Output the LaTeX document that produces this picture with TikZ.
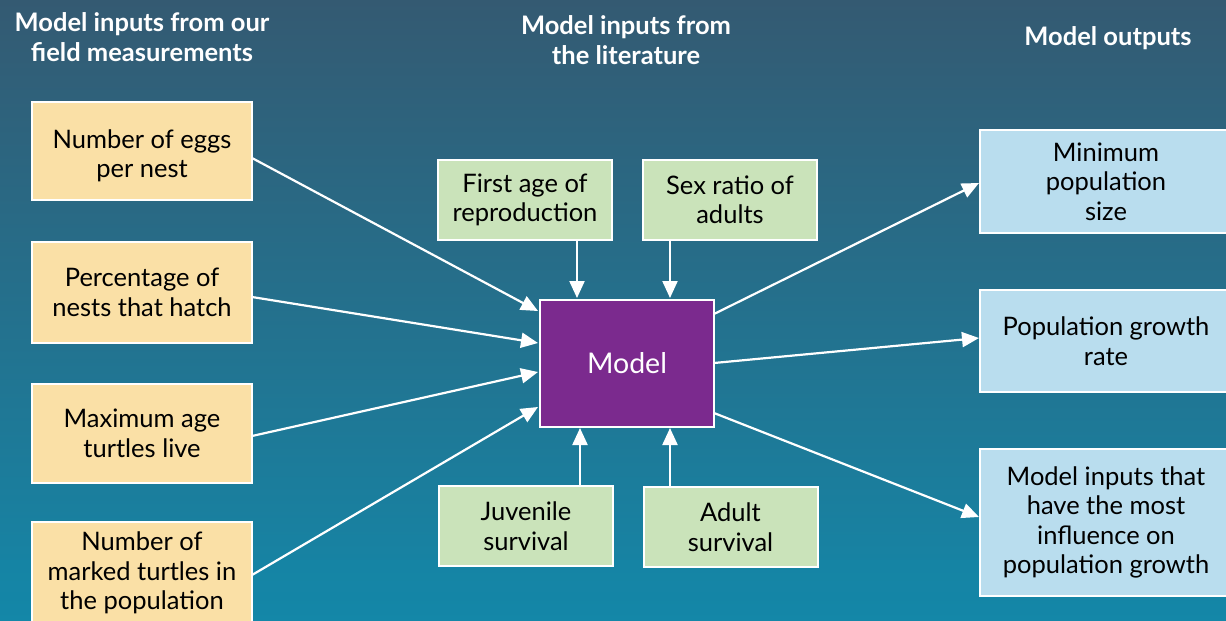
\documentclass[tikz,border=0pt]{standalone}
\usepackage{fontspec}
\setmainfont{Lato}
\usetikzlibrary{arrows.meta,positioning}
\definecolor{bgtop}{HTML}{345A72}
\definecolor{bgbot}{HTML}{1487A8}
\definecolor{yel}{HTML}{FAE0A6}
\definecolor{grn}{HTML}{CAE3BA}
\definecolor{blu}{HTML}{B9DDEE}
\definecolor{pur}{HTML}{7B2A8E}
\tikzset{
  box/.style={draw=white,line width=2pt,inner sep=0pt,align=center,font=\fontsize{25.5}{29.5}\selectfont,text=black},
  ybox/.style={box,fill=yel,minimum width=220pt},
  gbox/.style={box,fill=grn,minimum width=174pt,minimum height=80pt},
  bbox/.style={box,fill=blu},
  head/.style={align=center,text=white,font=\bfseries\fontsize{25.5}{29.5}\selectfont},
  arr/.style={draw=white,line width=2.2pt,-{Triangle[length=17pt,width=15pt]}}
}
\begin{document}
\begin{tikzpicture}[x=1pt,y=-1pt]
\useasboundingbox (0,0) rectangle (1226,621);
\shade[top color=bgtop,bottom color=bgbot] (0,0) rectangle (1226,621);
\fill[bgbot,opacity=0.35] (0,621) rectangle (1226,560);
% headings
\node[head] (h1) at (142,37) {Model inputs from our\\field measurements};
\node[head] (h2) at (626,40) {Model inputs from\\the literature};
\node[head] (h3) at (1108,38) {Model outputs};
% left yellow boxes
\node[ybox,minimum height=98pt] (y1) at (142,151) {};
\node[align=center,font=\fontsize{25.5}{29.5}\selectfont] (y1t) at (142,156) {Number of eggs\\per nest};
\node[ybox,minimum height=101pt] (y2) at (142,292.5) {Percentage of\\nests that hatch};
\node[ybox,minimum height=99pt] (y3) at (142,433.5) {Maximum age\\turtles live};
\node[ybox,minimum height=120pt] (y4) at (142,582) {};
\node[align=center,font=\fontsize{25.5}{29.5}\selectfont] (y4t) at (142,573) {Number of\\marked turtles in\\the population};
% green
\node[gbox] (g1) at (525,200) {First age of\\reproduction};
\node[gbox] (g2) at (730,200) {Sex ratio of\\adults};
\node[gbox] (g3) at (526,526) {Juvenile\\survival};
\node[gbox] (g4) at (730.5,527) {Adult\\survival};
% model
\node[box,fill=pur,minimum width=174pt,minimum height=127pt,text=white,font=\fontsize{28.5}{32}\selectfont] (m) at (627,363) {Model};
% blue
\node[bbox,minimum width=260pt,minimum height=103pt,anchor=west] (b1) at (979,181.5) {\hspace*{-8pt}\parbox{240pt}{\centering Minimum\\population\\size}};
\node[bbox,minimum width=260pt,minimum height=102pt,anchor=west] (b2) at (979,341) {\hspace*{-8pt}\parbox{240pt}{\centering Population growth\\rate}};
\node[bbox,minimum width=260pt,minimum height=147pt,anchor=west] (b3) at (979,522.5) {\hspace*{-8pt}\parbox{240pt}{\centering Model inputs that\\have the most\\influence on\\population growth}};
% coordinates for connectors
\coordinate (y1e) at (252,158);
\coordinate (y2e) at (252,297);
\coordinate (y3e) at (252,436);
\coordinate (y4e) at (252,575);
\coordinate (m1) at (538,311);
\coordinate (m2) at (538,343);
\coordinate (m3) at (538,372);
\coordinate (m4) at (538,407);
\draw[arr] (y1e) -- (m1);
\draw[arr] (y2e) -- (m2);
\draw[arr] (y3e) -- (m3);
\draw[arr] (y4e) -- (m4);
\draw[arr] (g1.south -| 577,0) -- (577,298);
\draw[arr] (g2.south -| 670,0) -- (670,298);
\draw[arr] (g3.north -| 580,0) -- (580,428);
\draw[arr] (g4.north -| 670,0) -- (670,428);
\coordinate (mo1) at (714,314);
\coordinate (mo2) at (714,363);
\coordinate (mo3) at (714,413);
\draw[arr] (mo1) -- (b1.west |- 0,183);
\draw[arr] (mo2) -- (b2.west |- 0,338);
\draw[arr] (mo3) -- (b3.west |- 0,517);
\end{tikzpicture}
\end{document}
